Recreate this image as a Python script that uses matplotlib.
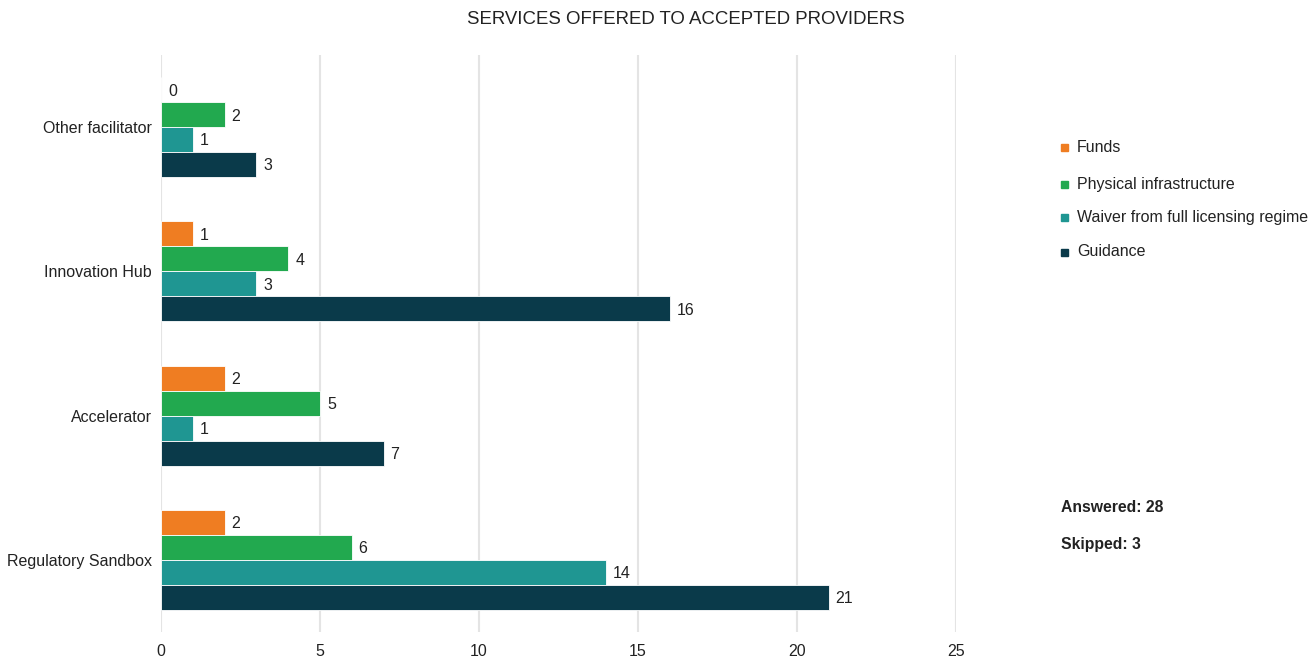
import matplotlib
matplotlib.use("Agg")
import matplotlib.pyplot as plt
from matplotlib.patches import Rectangle
import numpy as np

plt.rcParams['font.family'] = ['Liberation Sans', 'DejaVu Sans']

categories = ["Regulatory Sandbox", "Accelerator", "Innovation Hub", "Other facilitator"]
series_names = ["Funds", "Physical infrastructure", "Waiver from full licensing regime", "Guidance"]
funds = [2, 2, 1, 0]
physical = [6, 5, 4, 2]
waiver = [14, 1, 3, 1]
guidance = [21, 7, 16, 3]
colors = ["#EF7D22", "#22A94F", "#1F9692", "#0A3A4A"]
answered = 28
skipped = 3
title = "SERVICES OFFERED TO ACCEPTED PROVIDERS"

W, H = 1316, 663
fig = plt.figure(figsize=(W / 100, H / 100), dpi=100)
ax = fig.add_axes([161 / W, 1 - 632 / H, (956 - 161) / W, (632 - 55) / H])

y = np.arange(len(categories))
h = 0.173
offsets = [1.5 * h, 0.5 * h, -0.5 * h, -1.5 * h]
for vals, off, col in zip([funds, physical, waiver, guidance], offsets, colors):
    bars = ax.barh(y + off, vals, height=h, color=col, edgecolor="white", linewidth=0.6, zorder=3)
    for b, v in zip(bars, vals):
        ax.annotate(str(v), (b.get_width(), b.get_y() + b.get_height() / 2),
                    xytext=(5, -1), textcoords="offset points", va="center", ha="left",
                    fontsize=11.5, color="#222222")

ax.set_xlim(0, 25)
ax.set_ylim(-0.5, 3.5)
ax.set_xticks([0, 5, 10, 15, 20, 25])
ax.set_yticks(y)
ax.set_yticklabels(categories)
ax.tick_params(axis="both", length=0, labelsize=11.5, colors="#222222")
ax.tick_params(axis="x", pad=9)
ax.tick_params(axis="y", pad=6.5)
for s in ax.spines.values():
    s.set_visible(False)
ax.grid(axis="x", color="#e4e4e4", linewidth=1.5, zorder=0)
ax.set_axisbelow(True)

fig.text(686 / W, 1 - 19 / H, title, ha="center", va="center", fontsize=13.4, color="#222222")

legend_y = [147, 184, 218, 252]
for name, col, ly in zip(series_names, colors, legend_y):
    fig.add_artist(Rectangle(((1064 - 3.5) / W, 1 - (ly + 3.5) / H), 7 / W, 7 / H,
                             transform=fig.transFigure, color=col))
    fig.text(1077 / W, 1 - ly / H, name, ha="left", va="center", fontsize=11.5, color="#222222")

fig.text(1061 / W, 1 - 508 / H, f"Answered: {answered}", ha="left", va="center",
         fontsize=11.3, fontweight="bold", color="#222222")
fig.text(1061 / W, 1 - 545 / H, f"Skipped: {skipped}", ha="left", va="center",
         fontsize=11.3, fontweight="bold", color="#222222")

fig.savefig("out.png", dpi=100)
